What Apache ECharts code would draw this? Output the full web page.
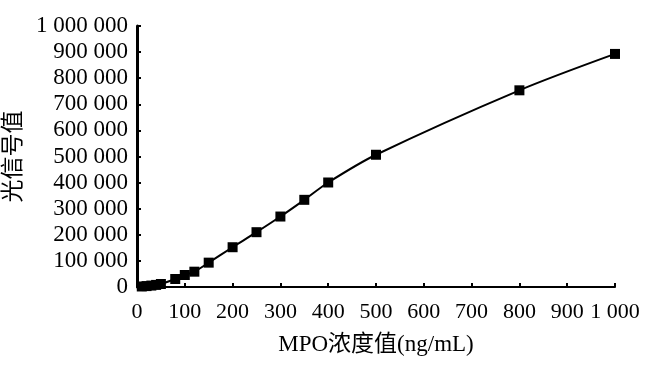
<!DOCTYPE html>
<html>
<head>
<meta charset="utf-8">
<script src="https://cdn.jsdelivr.net/npm/echarts@6/dist/echarts.min.js"></script>
<style>
  html, body { margin: 0; padding: 0; background: #fff; }
  #chart { width: 650px; height: 372px; }
</style>
</head>
<body>
<div id="chart"></div>
<script>
// MPO 浓度 (ng/mL) 与光信号值
const concentrations = [10, 20, 30, 40, 50, 80, 100, 120, 150, 200, 250, 300, 350, 400, 500, 800, 1000]
const signals = [2000, 3500, 5500, 8000, 11500, 30700, 46000, 58700, 93300, 152400, 210000, 270000, 334000, 400400, 506700, 753600, 893000]
const xTicks = { min: 0, max: 1000, interval: 100 }
const yTicks = { min: 0, max: 1000000, interval: 100000 }

const FONT = '"Liberation Serif", "Times New Roman", "Noto Sans CJK SC", serif'
const spaced = v => String(v).replace(/\B(?=(\d{3})+(?!\d))/g, ' ')

const points = concentrations.map((c, i) => [c, signals[i]])

const chart = echarts.init(document.getElementById('chart'), null, { renderer: 'canvas' })

const axisCommon = {
  type: 'value',
  axisLine: { show: true, lineStyle: { color: '#000', width: 2 } },
  axisTick: { show: true, inside: true, length: 4, lineStyle: { color: '#000', width: 2 } },
  splitLine: { show: false },
  axisLabel: { color: '#000', fontFamily: FONT, fontSize: 22, formatter: spaced },
  nameTextStyle: { color: '#000', fontFamily: FONT, fontSize: 23 }
}

chart.setOption({
  animation: false,
  grid: { left: 137, right: 35, top: 26, bottom: 85, containLabel: false, outerBoundsMode: 'none' },
  xAxis: {
    ...axisCommon,
    min: xTicks.min,
    max: xTicks.max,
    interval: xTicks.interval,
    name: 'MPO浓度值(ng/mL)',
    nameLocation: 'middle',
    nameGap: 46,
    axisLabel: { ...axisCommon.axisLabel, margin: 14 }
  },
  yAxis: {
    ...axisCommon,
    min: yTicks.min,
    max: yTicks.max,
    interval: yTicks.interval,
    name: '光信号值',
    nameLocation: 'middle',
    nameRotate: 90,
    nameGap: 103,
    axisLine: { show: true, lineStyle: { color: '#000', width: 3 } },
    axisLabel: { ...axisCommon.axisLabel, fontSize: 23, margin: 9 }
  },
  series: [
    {
      type: 'line',
      data: points,
      smooth: 0.3,
      symbol: 'rect',
      symbolSize: 10,
      showSymbol: true,
      lineStyle: { color: '#000', width: 2 },
      itemStyle: { color: '#000' }
    }
  ]
})
</script>
</body>
</html>
